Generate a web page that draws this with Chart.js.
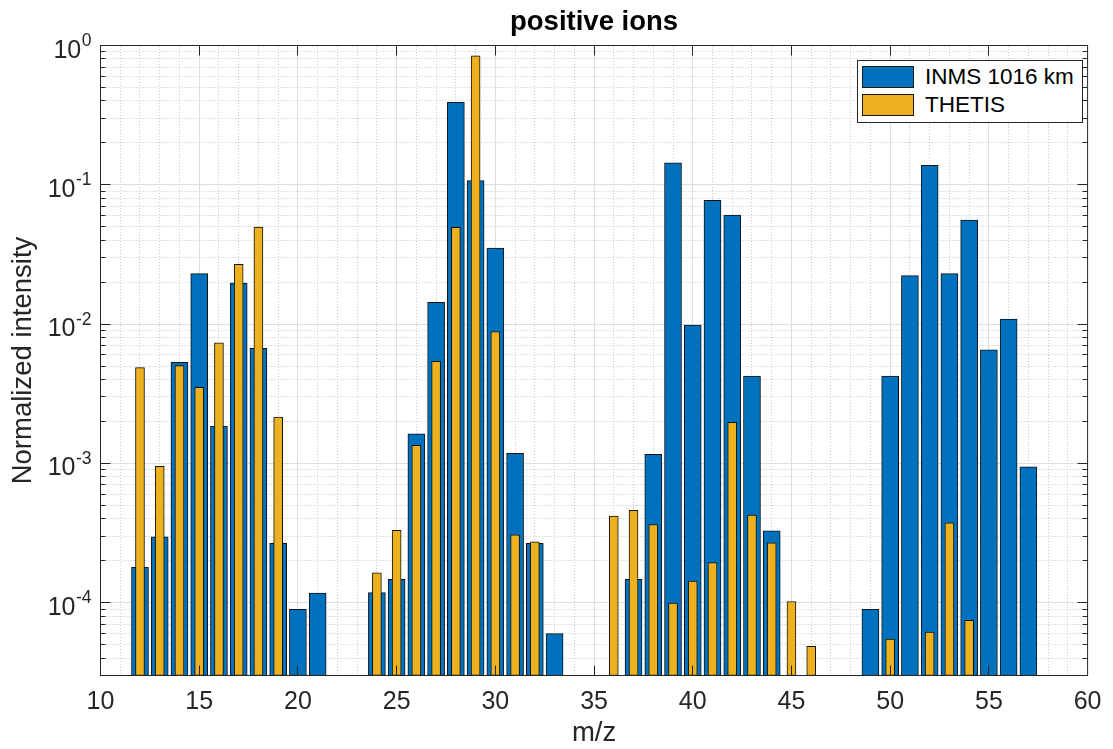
<!DOCTYPE html>
<html>
<head>
<meta charset="utf-8">
<script src="https://cdn.jsdelivr.net/npm/chart.js@4.4.1/dist/chart.umd.min.js"></script>
<style>
  html, body { margin: 0; padding: 0; background: #fff; }
  #wrap { position: relative; width: 1113px; height: 749px; }
  #c { display: block; }
  #legend {
    position: absolute; left: 857px; top: 60px; width: 224px; height: 61px;
    border: 1px solid #262626; background: #fff;
    font-family: "Liberation Sans", Arial, Helvetica, sans-serif; font-size: 22.5px; color: #000;
  }
  #legend .item { position: absolute; left: 4px; height: 22px; display: flex; align-items: center; white-space: nowrap; }
  #legend .sw { width: 52px; height: 22px; box-sizing: border-box; border: 1px solid #1a1a1a; margin-right: 11px; }
</style>
</head>
<body>
<div id="wrap">
  <canvas id="c" width="1113" height="749"></canvas>
  <div id="legend"></div>
</div>
<script>
// ---- data ----
const inmsMz = [12,13,14,15,16,17,18,19,20,21, 24,25,26,27,28,29,30,31,32,33, 37,38,39,40,41,42,43,44, 49,50,51,52,53,54,55,56,57];
const inmsIntensity = [1.79e-4,2.97e-4,5.32e-3,0.0230,1.85e-3,0.0197,6.71e-3,2.67e-4,8.97e-5,1.17e-4,
                       1.18e-4,1.47e-4,1.63e-3,0.0143,0.391,0.107,0.0351,1.18e-3,2.67e-4,6.0e-5,
                       1.47e-4,1.16e-3,0.1435,9.82e-3,0.0773,0.0607,4.24e-3,3.28e-4,
                       8.97e-5,4.24e-3,0.0223,0.1379,0.0230,0.0558,6.53e-3,0.01084,9.46e-4];
const thetisMz = [12,13,14,15,16,17,18,19, 24,25,26,27,28,29,30,31,32, 36,37,38,39,40,41,42,43,44,45,46, 50,52,53,54];
const thetisIntensity = [4.87e-3,9.51e-4,5.03e-3,3.52e-3,7.33e-3,0.0268,0.0497,2.15e-3,
                         1.64e-4,3.30e-4,1.35e-3,5.41e-3,0.0494,0.843,8.83e-3,3.07e-4,2.73e-4,
                         4.18e-4,4.61e-4,3.64e-4,9.95e-5,1.43e-4,1.94e-4,1.97e-3,4.25e-4,2.69e-4,1.02e-4,4.86e-5,
                         5.48e-5,6.15e-5,3.74e-4,7.47e-5];
const seriesNames = ['INMS 1016 km', 'THETIS'];
const seriesColors = ['#0072BD', '#EDB120'];
const xTickValues = [10,15,20,25,30,35,40,45,50,55,60];
const yTickExponents = [-4,-3,-2,-1,0];
const chartTitle = 'positive ions';
const xTitle = 'm/z';
const yTitle = 'Normalized intensity';

// ---- styling ----
const AX = '#262626';
const MAJOR = '#dedede';
const MINOR = '#c6c6c6';
const EDGE = '#111111';
const X_MIN = 10, X_MAX = 60, Y_MIN = 3e-5, Y_MAX = 1;
const FONT = '"Liberation Sans", Arial, Helvetica, sans-serif';
Chart.defaults.font.family = FONT;

const pairs = (xs, ys) => xs.map((x, i) => ({ x: x, y: ys[i] }));

const xMinorValues = [];
for (let v = X_MIN + 1; v < X_MAX; v++) if (v % 5 !== 0) xMinorValues.push(v);
const yMinorValues = [];
for (let e = -5; e < 0; e++) for (let m = 2; m <= 9; m++) {
  const v = m * Math.pow(10, e);
  if (v > Y_MIN && v < Y_MAX) yMinorValues.push(v);
}

const crisp = p => Math.round(p - 0.5) + 0.5;

const axesDecor = {
  id: 'axesDecor',
  afterDatasetsDraw(chart) {
    const { ctx, chartArea: a } = chart;
    const xs = chart.scales.x, ys = chart.scales.y;
    ctx.save();
    ctx.strokeStyle = AX;
    ctx.lineWidth = 1;
    ctx.beginPath();
    xTickValues.forEach(v => {
      if (v <= X_MIN || v >= X_MAX) return;
      const px = crisp(xs.getPixelForValue(v));
      ctx.moveTo(px, a.bottom); ctx.lineTo(px, a.bottom - 10);
      ctx.moveTo(px, a.top); ctx.lineTo(px, a.top + 10);
    });
    yTickExponents.forEach(e => {
      const py = crisp(ys.getPixelForValue(Math.pow(10, e)));
      ctx.moveTo(a.left, py); ctx.lineTo(a.left + 10, py);
      ctx.moveTo(a.right, py); ctx.lineTo(a.right - 10, py);
    });
    yMinorValues.forEach(v => {
      const py = crisp(ys.getPixelForValue(v));
      ctx.moveTo(a.left, py); ctx.lineTo(a.left + 5, py);
      ctx.moveTo(a.right, py); ctx.lineTo(a.right - 5, py);
    });
    ctx.stroke();
    ctx.strokeRect(a.left, a.top, a.right - a.left, a.bottom - a.top);
    ctx.restore();
  },
  afterDraw(chart) {
    const { ctx, chartArea: a } = chart;
    const ys = chart.scales.y;
    ctx.save();
    ctx.fillStyle = AX;
    ctx.textBaseline = 'alphabetic';
    ctx.textAlign = 'left';
    const rightEdge = a.left - 9;
    yTickExponents.forEach(e => {
      const py = ys.getPixelForValue(Math.pow(10, e));
      const expStr = String(e);
      ctx.font = '17.5px ' + FONT;
      const ew = ctx.measureText(expStr).width;
      ctx.font = '25px ' + FONT;
      const bw = ctx.measureText('10').width;
      const xExp = rightEdge - ew;
      const xBase = xExp - bw - 0.5;
      ctx.fillText('10', xBase, py + 12);
      ctx.font = '17.5px ' + FONT;
      ctx.fillText(expStr, xExp, py + 0.5);
    });
    ctx.restore();
  }
};

const chart = new Chart(document.getElementById('c'), {
  type: 'bar',
  data: {
    datasets: [
      { label: seriesNames[0], data: pairs(inmsMz, inmsIntensity), backgroundColor: seriesColors[0],
        borderColor: EDGE, borderWidth: 1, borderSkipped: false, barThickness: 17, grouped: false, order: 2,
        xAxisID: 'x', yAxisID: 'y' },
      { label: seriesNames[1], data: pairs(thetisMz, thetisIntensity), backgroundColor: seriesColors[1],
        borderColor: EDGE, borderWidth: 1, borderSkipped: false, barThickness: 9, grouped: false, order: 1,
        xAxisID: 'x', yAxisID: 'y' }
    ]
  },
  options: {
    responsive: false,
    devicePixelRatio: 1,
    animation: false,
    layout: { padding: { left: 0, right: 17.5, top: 0, bottom: 0 } },
    plugins: { legend: { display: false }, tooltip: { enabled: false }, title: { display: false } },
    scales: {
      x: {
        type: 'linear', position: 'bottom', min: X_MIN, max: X_MAX, offset: false,
        afterBuildTicks: s => { s.ticks = xTickValues.map(v => ({ value: v })); },
        ticks: { font: { size: 25, lineHeight: 1.2 }, color: AX, padding: 11.5, autoSkip: false, maxRotation: 0,
                 callback: v => String(v) },
        grid: { color: MAJOR, lineWidth: 1, drawTicks: false, offset: false },
        border: { display: false },
        title: { display: true, text: xTitle, color: AX, font: { size: 27.5, lineHeight: '9px' },
                 padding: { top: 0, bottom: 11.5 } }
      },
      xMinor: {
        type: 'linear', position: 'top', min: X_MIN, max: X_MAX, offset: false,
        afterBuildTicks: s => { s.ticks = xMinorValues.map(v => ({ value: v })); },
        ticks: { display: false, autoSkip: false },
        grid: { color: MINOR, lineWidth: 1, drawTicks: false, offset: false, borderDash: [1, 2] },
        border: { display: false, dash: [1, 2] },
        title: { display: true, text: chartTitle, color: '#000',
                 font: { size: 27.5, weight: 'bold', lineHeight: 1.2 }, padding: { top: 6, bottom: 6.5 } }
      },
      y: {
        type: 'logarithmic', position: 'left', min: Y_MIN, max: Y_MAX,
        afterBuildTicks: s => { s.ticks = yTickExponents.map(e => ({ value: Math.pow(10, e) })); },
        ticks: { display: false },
        grid: { color: MAJOR, lineWidth: 1, drawTicks: false },
        border: { display: false },
        title: { display: true, text: yTitle, color: AX, font: { size: 27.5, lineHeight: 1.2 },
                 padding: { top: 7, bottom: 60.5 } }
      },
      yMinor: {
        type: 'logarithmic', position: 'right', min: Y_MIN, max: Y_MAX,
        afterBuildTicks: s => { s.ticks = yMinorValues.map(v => ({ value: v })); },
        ticks: { display: false },
        grid: { color: MINOR, lineWidth: 1, drawTicks: false, borderDash: [1, 2] },
        border: { display: false, dash: [1, 2] }
      }
    }
  },
  plugins: [axesDecor]
});

// ---- legend (HTML, built from the series definitions) ----
const legend = document.getElementById('legend');
seriesNames.forEach((name, i) => {
  const item = document.createElement('div');
  item.className = 'item';
  item.style.top = (5 + i * 28) + 'px';
  const sw = document.createElement('span');
  sw.className = 'sw';
  sw.style.background = seriesColors[i];
  const txt = document.createElement('span');
  txt.textContent = name;
  item.appendChild(sw);
  item.appendChild(txt);
  legend.appendChild(item);
});
</script>
</body>
</html>
